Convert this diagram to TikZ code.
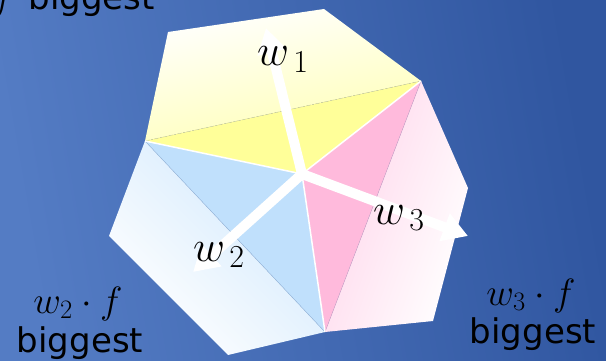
\RequirePackage{fix-cm}
\documentclass[tikz,border=0pt]{standalone}
\usepackage{fontspec}
\setsansfont{DejaVu Sans}
\usetikzlibrary{arrows.meta}
\DeclareMathSizes{44}{44}{32}{22}
\definecolor{bgL}{RGB}{84,124,196}
\definecolor{bgR}{RGB}{48,86,160}
\definecolor{yel}{RGB}{255,255,153}
\definecolor{yelL}{RGB}{255,255,180}
\definecolor{pnk}{RGB}{255,186,220}
\definecolor{pnkL}{RGB}{255,212,234}
\definecolor{blu}{RGB}{192,224,252}
\definecolor{bluL}{RGB}{208,232,253}
\begin{document}
\begin{tikzpicture}[x=1pt,y=-1pt,
  lab/.style={inner sep=0pt,font=\fontsize{38}{40}\selectfont},
  wlab/.style={inner sep=0pt,font=\fontsize{44}{46}\selectfont},
  bigtxt/.style={inner sep=0pt,font=\sffamily\fontsize{34}{36}\selectfont},
  warrow/.style={white,line width=10pt,-{Triangle[width=28pt,length=25pt]}},
  sepline/.style={white,line width=1.5pt}]
\useasboundingbox (0,0) rectangle (606,361);
\shade[left color=bgL,right color=bgR,shading angle=100] (0,0) rectangle (606,361);
% vertices
\coordinate (c) at (302,174);
\coordinate (vL) at (145,141);
\coordinate (vR) at (421,81);
\coordinate (vB) at (325,332);
\coordinate (p1) at (168,32);
\coordinate (p2) at (324,9);
\coordinate (p3) at (468,188);
\coordinate (p4) at (433,321);
\coordinate (p5) at (228,355);
\coordinate (p6) at (109,236);
% regions
\shade[top color=white,bottom color=yelL,shading angle=12] (vL)--(p1)--(p2)--(vR)--cycle;
\shade[top color=pnkL,bottom color=white,shading angle=70] (vR)--(p3)--(p4)--(vB)--cycle;
\shade[top color=bluL,bottom color=white,shading angle=-45] (vL)--(vB)--(p5)--(p6)--cycle;
\fill[yel] (vL)--(vR)--(c)--cycle;
\fill[pnk] (vR)--(c)--(vB)--cycle;
\fill[blu] (vL)--(c)--(vB)--cycle;
% thin lines
\draw[color={rgb,255:red,150;green,180;blue,215},line width=0.4pt] (vL)--(vB);
\draw[color={rgb,255:red,205;green,165;blue,200},line width=0.4pt] (vR)--(vB);
\draw[color={rgb,255:red,200;green,200;blue,150},line width=0.4pt,dash pattern=on 2pt off 1pt] (vL)--(vR);
\draw[sepline] (vL)--(c)--(vR);
\draw[sepline] (c)--(vB);
% arrows
\coordinate (t1) at (266,28);
\coordinate (t2) at (193,272);
\coordinate (t3) at (468,236);
\draw[warrow] (c)--(t1);
\draw[warrow] (c)--(t2);
\draw[warrow] (c)--(t3);
% labels
\node[wlab,anchor=base west] (l1) at (257,66) {$w_{\,1}$};
\node[wlab,anchor=base west] (l2) at (193,261) {$w_{\,2}$};
\node[wlab,anchor=base west] (l3) at (373,224) {$w_{\,3}$};
\node[bigtxt,anchor=base east] (b1) at (155,10) {{\fontsize{38}{40}\selectfont$w_1\cdot f$}\hspace{14pt}biggest};
\node[lab,anchor=base] (f2) at (78,313) {$w_2\cdot f$};
\node[bigtxt,anchor=base] (b2) at (80,352) {biggest};
\node[lab,anchor=base] (f3) at (531,305) {$w_3\cdot f$};
\node[bigtxt,anchor=base] (b3) at (533,343) {biggest};
\end{tikzpicture}
\end{document}
